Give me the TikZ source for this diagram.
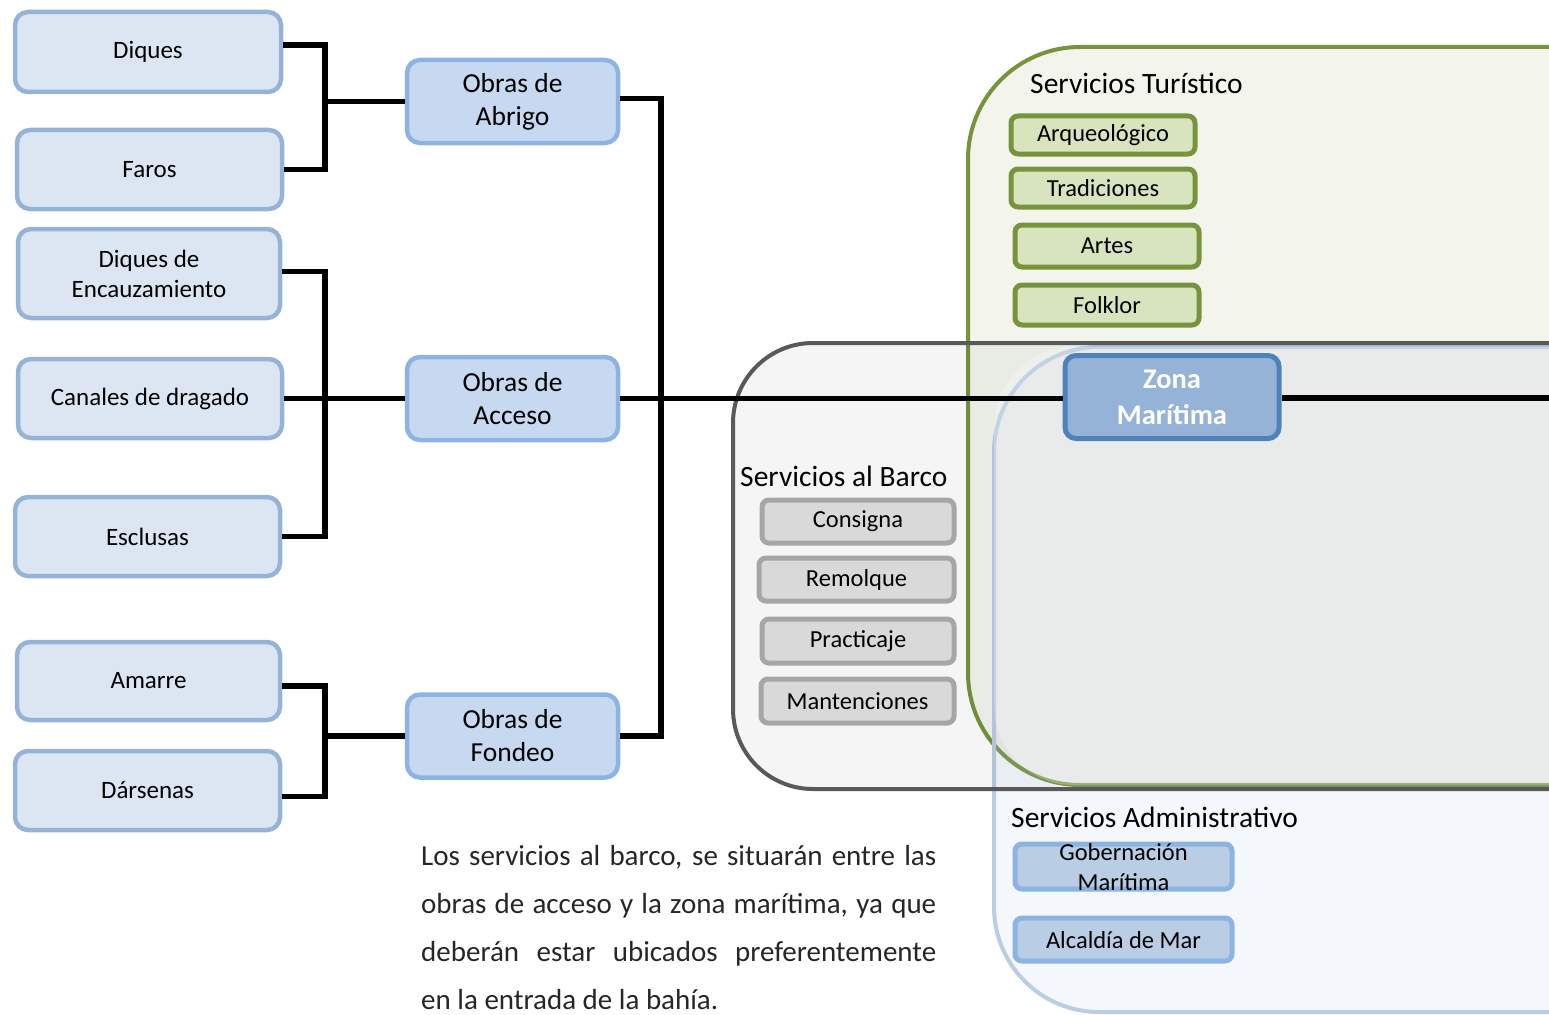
\documentclass[tikz,border=0pt]{standalone}
\usepackage{fontspec}
\setmainfont{Carlito}
\definecolor{leafFill}{HTML}{DCE6F2}
\definecolor{leafLine}{HTML}{95B3D7}
\definecolor{obraFill}{HTML}{C6D9F1}
\definecolor{obraLine}{HTML}{8DB3E2}
\definecolor{zonaFill}{HTML}{95B3D7}
\definecolor{zonaLine}{HTML}{4F81BD}
\definecolor{olive}{HTML}{77933C}
\definecolor{oliveFill}{HTML}{D7E4BD}
\definecolor{greyLine}{HTML}{595959}
\definecolor{greyBoxLine}{HTML}{A6A6A6}
\definecolor{greyBoxFill}{HTML}{D9D9D9}
\definecolor{admLine}{HTML}{B9CDE5}
\definecolor{admBoxFill}{HTML}{B9CDE5}
\definecolor{admBoxLine}{HTML}{8DB3E2}
\definecolor{bodyText}{HTML}{262626}
\begin{document}
\begin{tikzpicture}[x=1pt,y=-1pt,
  leaf/.style={draw=leafLine, fill=leafFill, line width=4.5pt, rounded corners=13pt,
    inner sep=0pt, align=center, font=\fontsize{25}{30}\selectfont},
  obra/.style={draw=obraLine, fill=obraFill, line width=4.5pt, rounded corners=13pt,
    minimum width=211pt, minimum height=83pt, inner sep=0pt, align=center,
    font=\fontsize{27.5}{33}\selectfont},
  zonabox/.style={draw=zonaLine, fill=zonaFill, line width=5pt, rounded corners=11pt,
    minimum width=214pt, minimum height=83pt, inner sep=0pt, align=center,
    text=white, font=\fontsize{28.5}{36}\selectfont\bfseries},
  turbox/.style={draw=olive, fill=oliveFill, line width=5pt, rounded corners=7pt,
    minimum width=184pt, inner sep=0pt, font=\fontsize{24.5}{29}\selectfont},
  barcobox/.style={draw=greyBoxLine, fill=greyBoxFill, line width=5pt, rounded corners=7pt,
    inner sep=0pt, font=\fontsize{24.5}{29}\selectfont},
  admbox/.style={draw=admBoxLine, fill=admBoxFill, line width=5pt, rounded corners=7pt,
    minimum width=217pt, inner sep=0pt},
  admtext/.style={inner sep=0pt, align=center, font=\fontsize{24.5}{30}\selectfont},
  grouptitle/.style={anchor=west, inner sep=0pt, font=\fontsize{29.5}{34}\selectfont},
  conn/.style={draw=black, line width=5.5pt, line join=miter}]

\useasboundingbox (0,0) rectangle (1549,1014);
\clip (0,0) rectangle (1549,1014);

% ---- service areas (open to the right) ----
\fill[olive, opacity=0.09, rounded corners=112pt] (968,47) rectangle (1700,785);
\draw[olive, line width=4pt, rounded corners=112pt] (968,47) rectangle (1700,785);
\fill[admLine, opacity=0.16, rounded corners=105pt] (994,347) rectangle (1700,1012);
\draw[admLine, line width=4pt, rounded corners=105pt] (994,347) rectangle (1700,1012);
\fill[black, opacity=0.04, rounded corners=80pt] (733,343) rectangle (1700,789);
\fill[white, opacity=0.25, rounded corners=80pt] (994,347) rectangle (1700,785);
\draw[greyLine, line width=4pt, rounded corners=80pt] (733,343) rectangle (1700,789);

% ---- works ----
\node[leaf, minimum width=266pt, minimum height=80pt] (diques)   at (148,52)    {Diques};
\node[leaf, minimum width=265pt, minimum height=79pt] (faros)    at (149.5,169.5) {Faros};
\node[leaf, minimum width=262pt, minimum height=89pt] (encauz)   at (149,273.5) {Diques de\\Encauzamiento};
\node[leaf, minimum width=264pt, minimum height=79pt] (canales)  at (150,398.5) {Canales de dragado};
\node[leaf, minimum width=265pt, minimum height=79pt] (esclusas) at (147.5,536.5) {Esclusas};
\node[leaf, minimum width=263pt, minimum height=78pt] (amarre)   at (148.5,681) {Amarre};
\node[leaf, minimum width=265pt, minimum height=79pt] (darsenas) at (147.5,790.5) {Dársenas};

\node[obra] (abrigo) at (512.5,101.5) {Obras de\\Abrigo};
\node[obra] (acceso) at (512.5,398.5) {Obras de\\Acceso};
\node[obra] (fondeo) at (512.5,736)   {Obras de\\Fondeo};

\coordinate (busL) at (325,0);
\coordinate (busR) at (661,0);
\coordinate (edgeR) at (1560,398);

% ---- connectors ----
\draw[conn] ([yshift=7pt]diques.east) -| (faros.east -| busL) -- (faros.east);
\draw[conn] (abrigo.west) -- (abrigo.west -| busL);
\draw[conn] ([yshift=2pt]encauz.east) -| (esclusas.east -| busL) -- (esclusas.east);
\draw[conn] (canales.east) -- (acceso.west);
\draw[conn] ([yshift=-5pt]amarre.east) -| ([yshift=-6pt]darsenas.east -| busL) -- ([yshift=-6pt]darsenas.east);
\draw[conn] (fondeo.west) -- (fondeo.west -| busL);
\draw[conn] ([yshift=3pt]abrigo.east) -| (fondeo.east -| busR) -- (fondeo.east);

\node[zonabox] (zona) at (1172,397) {Zona\\Marítima};
\draw[conn] (acceso.east) -- (acceso.east -| zona.west);
\draw[conn] (zona.east |- edgeR) -- (edgeR);

% ---- tourist services ----
\node[grouptitle] (tTur) at (1030,83) {Servicios Turístico};
\node[turbox, minimum height=38pt] (arq)   at (1103,135) {Arqueológico};
\node[turbox, minimum height=38pt] (trad)  at (1103,188) {Tradiciones};
\node[turbox, minimum height=42pt] (artes) at (1107,246) {Artes};
\node[turbox, minimum height=40pt] (folk)  at (1107,305) {Folklor};

% ---- ship services ----
\node[grouptitle] (tBarco) at (740,476) {Servicios al Barco};
\node[barcobox, minimum width=192pt, minimum height=43pt] (cons) at (858,521.5)   {Consigna};
\node[barcobox, minimum width=195pt, minimum height=43pt] (rem)  at (856.5,579.5) {Remolque};
\node[barcobox, minimum width=192pt, minimum height=44pt] (prac) at (858,641)     {Practicaje};
\node[barcobox, minimum width=193pt, minimum height=44pt] (mant) at (857.5,701)   {Mantenciones};

% ---- administrative services ----
\node[grouptitle] (tAdm) at (1011,817) {Servicios Administrativo};
\node[admbox, minimum height=45pt] (gob) at (1123.5,866.5) {};
\node[admtext] (gobtxt) at (1123.5,867) {Gobernación\\Marítima};
\node[admbox, minimum height=43pt] (alc) at (1123.5,939.5) {};
\node[admtext] (alctxt) at (1123.5,940) {Alcaldía de Mar};

% ---- note ----
\node[anchor=north west, inner sep=0pt, text width=515pt, align=justify, text=bodyText,
  font=\fontsize{29}{48}\selectfont] (nota) at (421,845)
  {\hyphenpenalty=10000 Los servicios al barco, se situarán entre las\linebreak
   obras de acceso y la zona marítima, ya que\linebreak
   deberán estar ubicados preferentemente\linebreak
   en la entrada de la bahía.};
\end{tikzpicture}
\end{document}
